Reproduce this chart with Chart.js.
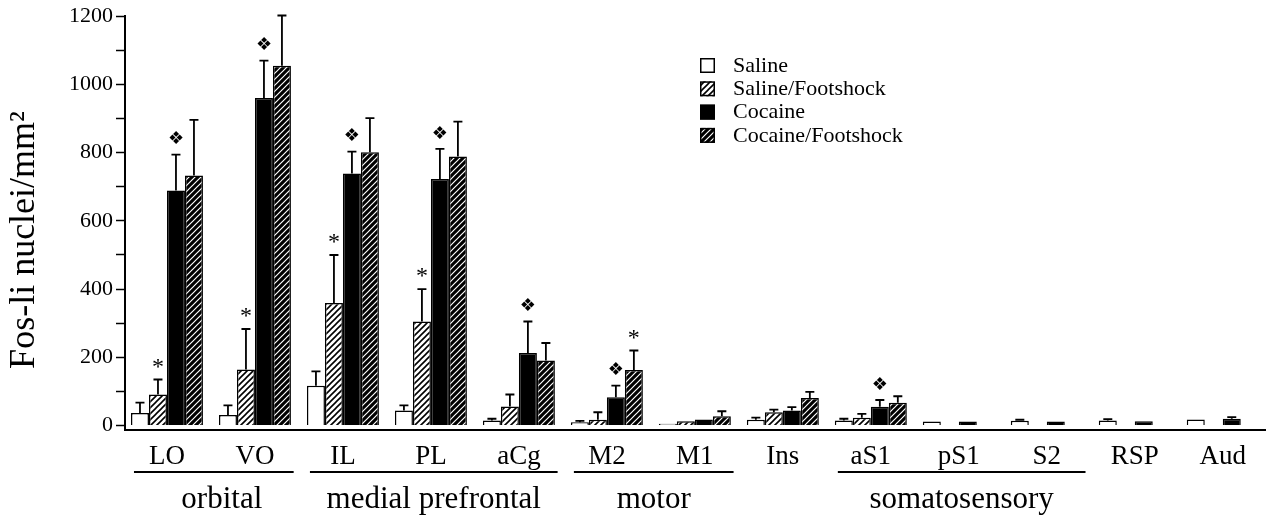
<!DOCTYPE html>
<html><head><meta charset="utf-8">
<script src="https://cdn.jsdelivr.net/npm/chart.js@4.4.1/dist/chart.umd.min.js"></script>
<style>html,body{margin:0;padding:0;background:#fff;}#wrap{width:1271px;height:519px;}</style>
</head><body><div id="wrap"><canvas id="c" width="1271" height="519"></canvas></div>
<script>
const categories = ['LO','VO','IL','PL','aCg','M2','M1','Ins','aS1','pS1','S2','RSP','Aud'];
const seriesNames = ['Saline','Saline/Footshock','Cocaine','Cocaine/Footshock'];
const salineMean  = [37, 31, 117, 44, 15, 10, 5, 17, 15, 12, 14, 15, 18];
const salineSem   = [30, 28, 42, 15, 5, 4, 0, 6, 5, 0, 3, 4, 0];
const salFsMean   = [91, 164, 359, 305, 56, 17, 13, 39, 23, null, null, null, null];
const salFsSem    = [44, 119, 141, 95, 35, 22, 0, 8, 11, null, null, null, null];
const cocaineMean = [689, 960, 739, 723, 213, 83, 18, 44, 55, 12, 12, 13, 20];
const cocaineSem  = [105, 110, 64, 88, 92, 34, 0, 10, 20, 0, 0, 0, 5];
const cocFsMean   = [733, 1055, 801, 789, 191, 163, 27, 81, 67, null, null, null, null];
const cocFsSem    = [163, 147, 100, 102, 51, 57, 15, 18, 19, null, null, null, null];
const salFsMarks   = ['*','*','*','*','','','','','','','','',''];
const cocaineMarks = ['❖','❖','❖','❖','❖','❖','','','❖','','','',''];
const cocFsMarks   = ['','','','','','*','','','','','','',''];
const salineMarks  = ['','','','','','','','','','','','',''];
const yTickValues = [0,100,200,300,400,500,600,700,800,900,1000,1100,1200];
const groupLabels = ['orbital','medial prefrontal','motor','somatosensory'];
const groupFrom = [0, 2, 5, 8];
const groupTo   = [1, 4, 6, 10];
const yTitle = 'Fos-li nuclei/mm²';

const SERIF = '"Liberation Serif", "Times New Roman", serif';

function hatch(bg, fg, lw) {
  const c = document.createElement('canvas');
  c.width = 6; c.height = 6;
  const g = c.getContext('2d');
  g.fillStyle = bg; g.fillRect(0,0,6,6);
  g.strokeStyle = fg; g.lineWidth = lw; g.lineCap = 'square';
  g.beginPath();
  g.moveTo(0,6); g.lineTo(6,0);
  g.moveTo(-3,3); g.lineTo(3,-3);
  g.moveTo(3,9); g.lineTo(9,3);
  g.stroke();
  return document.getElementById('c').getContext('2d').createPattern(c,'repeat');
}
const fills = ['#ffffff', hatch('#ffffff','#000000',1.6), '#000000', hatch('#000000','#ffffff',1.2)];
const means = [salineMean, salFsMean, cocaineMean, cocFsMean];
const sems = [salineSem, salFsSem, cocaineSem, cocFsSem];
const marks = [salineMarks, salFsMarks, cocaineMarks, cocFsMarks];

const datasets = seriesNames.map((name, k) => ({
  label: name,
  data: means[k].map((v, i) => ({x: i, y: v})),
  backgroundColor: fills[k],
  borderColor: '#000',
  borderWidth: 1.5,
  borderSkipped: 'bottom',
  categoryPercentage: 0.818,
  barPercentage: 1.0,
  sems: sems[k],
  marks: marks[k]
}));

const annot = {
  id: 'annot',
  afterDatasetsDraw(chart) {
    const ctx = chart.ctx;
    const ys = chart.scales.y;
    ctx.save();
    chart.data.datasets.forEach((ds, di) => {
      const meta = chart.getDatasetMeta(di);
      meta.data.forEach((el, i) => {
        const m = ds.data[i].y;
        if (m == null) return;
        let topY = el.y;
        const e = ds.sems[i];
        if (e > 0) {
          const ey = ys.getPixelForValue(m + e);
          ctx.strokeStyle = '#000'; ctx.lineWidth = 1.8;
          ctx.beginPath();
          ctx.moveTo(el.x, el.y); ctx.lineTo(el.x, ey);
          ctx.moveTo(el.x - 4.5, ey); ctx.lineTo(el.x + 4.5, ey);
          ctx.stroke();
          topY = ey;
        }
        const mk = ds.marks[i];
        if (mk) {
          ctx.fillStyle = '#000';
          ctx.textAlign = 'center'; ctx.textBaseline = 'middle';
          if (mk === '*') { ctx.font = '24px ' + SERIF; ctx.fillText(mk, el.x, topY - 12); }
          else { ctx.font = '18px "DejaVu Sans"'; ctx.fillText(mk, el.x, topY - 15); }
        }
      });
    });
    ctx.restore();
  },
  afterDraw(chart) {
    const ctx = chart.ctx;
    const xs = chart.scales.x;
    ctx.save();
    ctx.fillStyle = '#000'; ctx.strokeStyle = '#000';
    ctx.font = '27px ' + SERIF;
    ctx.textAlign = 'center'; ctx.textBaseline = 'alphabetic';
    categories.forEach((c, i) => ctx.fillText(c, xs.getPixelForValue(i), 464));
    ctx.lineWidth = 2;
    ctx.font = '31px ' + SERIF;
    groupLabels.forEach((g, k) => {
      const x0 = xs.getPixelForValue(groupFrom[k] - 0.375);
      const x1 = xs.getPixelForValue(groupTo[k] + 0.44);
      ctx.beginPath(); ctx.moveTo(x0, 472); ctx.lineTo(x1, 472); ctx.stroke();
      ctx.fillText(g, (x0 + x1) / 2 + (k === 0 ? 8 : 0), 508);
    });
    ctx.save();
    ctx.translate(25, 240); ctx.rotate(-Math.PI / 2);
    ctx.font = '36px ' + SERIF; ctx.textAlign = 'center'; ctx.textBaseline = 'middle';
    ctx.fillText(yTitle, 0, 0);
    ctx.restore();
    ctx.font = '22px ' + SERIF; ctx.textAlign = 'left'; ctx.textBaseline = 'middle';
    seriesNames.forEach((n, k) => {
      const top = 58 + k * 23.3;
      ctx.fillStyle = fills[k];
      ctx.fillRect(700, top, 15, 15);
      ctx.lineWidth = 1.5; ctx.strokeStyle = '#000';
      ctx.strokeRect(700.75, top + 0.75, 13.5, 13.5);
      ctx.fillStyle = '#000';
      ctx.fillText(n, 733, top + 8);
    });
    ctx.restore();
  }
};

new Chart(document.getElementById('c'), {
  type: 'bar',
  data: { datasets },
  options: {
    responsive: false, animation: false, devicePixelRatio: 1,
    layout: { padding: { top: 16, right: 6, bottom: 0, left: 0 } },
    plugins: { legend: { display: false }, tooltip: { enabled: false } },
    scales: {
      x: {
        type: 'linear', min: -0.477, max: 12.48, offset: false,
        grid: { display: false },
        ticks: { display: false },
        border: { display: true, color: '#000', width: 2 },
        afterBuildTicks(s) { s.ticks = categories.map((c, i) => ({ value: i })); },
        afterFit(s) { s.height = 89; }
      },
      y: {
        type: 'linear', min: -13, max: 1200,
        afterBuildTicks(s) { s.ticks = yTickValues.map(v => ({ value: v })); },
        afterFit(s) { s.width = 125; },
        grid: { drawOnChartArea: false, drawTicks: true, tickLength: 9, tickColor: '#000', tickWidth: 1.5 },
        border: { display: true, color: '#000', width: 2 },
        ticks: {
          color: '#000', padding: 3,
          font: { family: SERIF, size: 22 },
          callback: (v) => (v % 200 === 0 ? String(v) : '')
        }
      }
    }
  },
  plugins: [annot]
});
</script></body></html>
